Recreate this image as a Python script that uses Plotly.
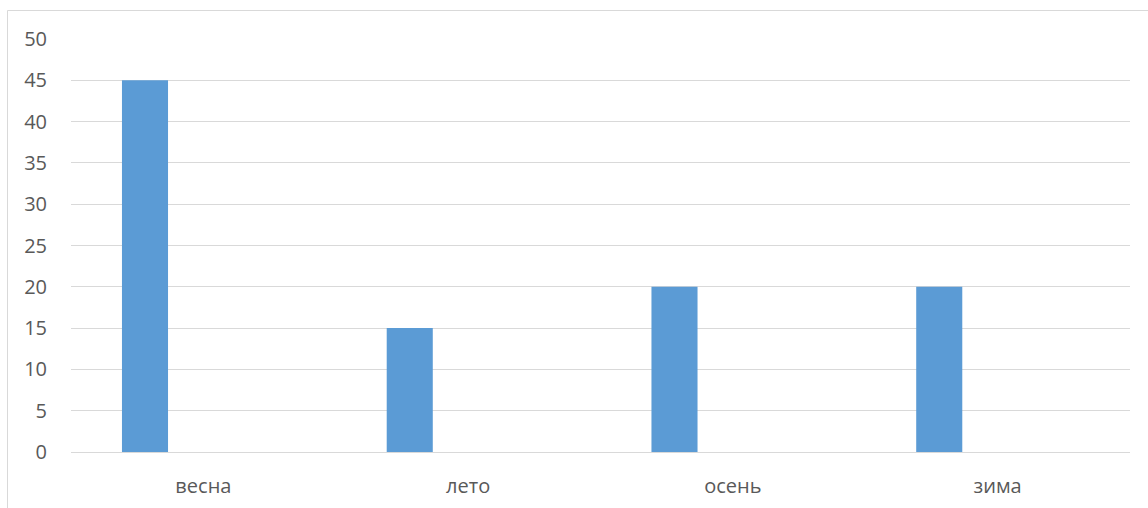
import plotly.graph_objects as go

categories = ["весна", "лето", "осень", "зима"]
values = [45, 15, 20, 20]
y_ticks = [0, 5, 10, 15, 20, 25, 30, 35, 40, 45, 50]

W, H = 1148, 508
L, R, T, B = 71, 18, 39, 56
pw = W - L - R
ph = H - T - B

fig = go.Figure()
fig.add_trace(go.Bar(
    x=categories, y=values,
    marker=dict(color="#5b9bd5", line=dict(width=0)),
    width=0.174, offset=-0.3075,
    showlegend=False, hoverinfo="x+y",
))

font_family = "Open Sans, Liberation Sans, sans-serif"
fig.update_layout(
    width=W, height=H,
    margin=dict(l=L, r=R, t=T, b=B, pad=0),
    paper_bgcolor="white", plot_bgcolor="white",
    font=dict(family=font_family, size=20, color="#595959"),
    xaxis=dict(type="category", showgrid=False, showline=False, zeroline=False,
               ticks="", tickfont=dict(size=20, color="#595959"),
               ticklabelstandoff=20, automargin=False, range=[-0.5, 3.5]),
    yaxis=dict(range=[0, 50], tickvals=y_ticks, showgrid=True, gridcolor="#d9d9d9",
               gridwidth=1, zeroline=True, zerolinecolor="#d9d9d9", zerolinewidth=1,
               showline=False, ticks="", ticklabelstandoff=23, automargin=False,
               tickfont=dict(size=20, color="#595959")),
    shapes=[dict(type="rect", xref="paper", yref="paper",
                 x0=(7.5 - L) / pw, x1=1.2, y0=-0.3, y1=(H - B - 10.5) / ph,
                 line=dict(color="#d9d9d9", width=1), fillcolor="rgba(0,0,0,0)",
                 layer="below")],
)

fig.write_html("out.html")
